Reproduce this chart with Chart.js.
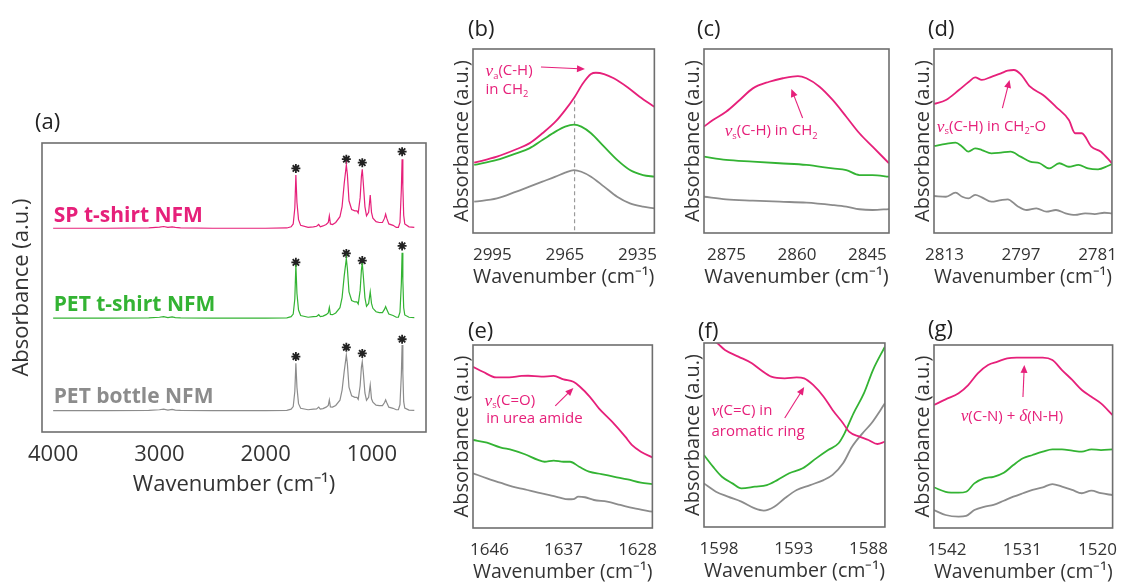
<!DOCTYPE html>
<html lang="en">
<head>
<meta charset="UTF-8">
<title>FTIR spectra of NFMs</title>
<script src="https://cdn.jsdelivr.net/npm/chart.js"></script>
<style>
  body { margin: 0; background: #fff; }
  #fig { position: relative; width: 1131px; height: 582px; overflow: hidden; background: #fff; }
  #fig canvas { position: absolute; }
</style>
</head>
<body>
<div id="fig"></div>
<script>
  // ---- (a) full spectra, 4000-600 cm-1 ----
  const aTicks = [4000, 3000, 2000, 1000];
  const aWn = [4000, 3500, 3100, 3000, 2960, 2920, 2880, 2850, 2800, 2500, 2000, 1800, 1760, 1740, 1725, 1715, 1705, 1690, 1670, 1600,
    1550, 1520, 1500, 1485, 1460, 1430, 1410, 1400, 1390, 1370, 1340, 1300, 1280, 1260, 1240, 1230, 1215, 1190, 1160, 1140,
    1128, 1110, 1098, 1090, 1080, 1065, 1050, 1030, 1015, 1003, 990, 960, 930, 900, 880, 870, 860, 840, 800, 770,
    750, 735, 722, 715, 708, 700, 690, 650, 600];
  const aSP = [70.5, 70.5, 70.6, 70.9, 71.1, 70.8, 71.0, 70.8, 70.6, 70.5, 70.5, 70.6, 71.0, 72.0, 77.5, 88.9, 79.5, 73.5, 71.5, 70.8,
    71.0, 71.2, 71.8, 71.0, 71.3, 71.8, 72.5, 74.8, 72.0, 71.8, 72.5, 74.5, 78.0, 86.0, 92.4, 89.0, 80.0, 77.0, 76.5, 76.5,
    75.8, 81.0, 88.5, 90.9, 86.0, 78.0, 74.8, 76.0, 82.0, 76.0, 74.0, 72.8, 72.5, 72.5, 74.0, 75.4, 74.0, 72.0, 71.5, 70.8,
    70.8, 72.5, 84.0, 94.4, 85.0, 75.0, 72.0, 71.0, 70.8];
  const aPS = [39.4, 39.4, 39.5, 39.7, 39.9, 39.6, 39.8, 39.6, 39.5, 39.4, 39.4, 39.5, 39.9, 40.8, 46.0, 57.9, 48.0, 42.2, 40.3, 39.7,
    39.9, 40.0, 40.6, 39.9, 40.1, 40.6, 41.2, 43.1, 40.7, 40.6, 41.2, 43.0, 46.5, 54.0, 60.0, 56.5, 48.5, 45.5, 45.0, 45.0,
    44.3, 49.0, 56.0, 58.5, 54.0, 46.5, 43.5, 44.5, 48.5, 44.5, 42.8, 41.6, 41.3, 41.3, 42.5, 43.4, 42.5, 40.8, 40.3, 39.7,
    39.7, 41.5, 51.5, 62.0, 52.5, 43.0, 40.5, 39.7, 39.6];
  const aPB = [7.4, 7.4, 7.5, 7.7, 7.9, 7.6, 7.8, 7.6, 7.5, 7.4, 7.4, 7.5, 7.9, 8.8, 14.0, 23.8, 15.5, 9.8, 8.2, 7.7,
    7.9, 8.0, 8.6, 7.9, 8.1, 8.6, 9.2, 11.1, 8.7, 8.6, 9.2, 11.0, 14.5, 21.0, 26.6, 23.5, 15.5, 12.5, 12.0, 12.0,
    11.3, 16.0, 22.5, 24.3, 20.5, 13.5, 11.0, 12.0, 16.3, 11.5, 10.3, 9.3, 9.1, 9.1, 10.2, 11.1, 10.2, 8.6, 8.2, 7.7,
    7.7, 9.5, 20.0, 30.1, 20.5, 10.5, 8.3, 7.6, 7.5];
  // asterisks over the main PET bands
  const starWn = [1715, 1240, 1090, 715];
  const starSP = [91.2, 94.4, 93.2, 97.0];
  const starPS = [58.7, 61.8, 59.3, 64.4];
  const starPB = [26.1, 29.3, 27.2, 32.1];

  // ---- (b) 3003-2928 ----
  const bTicks = [2995, 2965, 2935];
  const bWnSP = [3002.5, 2993.1, 2985.1, 2979.7, 2974.3, 2968.9, 2964.9, 2960.9, 2957.5, 2954.2, 2952.2, 2948.8, 2944.8, 2939.4, 2934.1, 2928];
  const bSP = [38.2, 41.5, 45.5, 48.7, 54.2, 60.5, 66.8, 74.1, 81.4, 86.4, 87.1, 86.4, 84.1, 79.5, 74.1, 68.6];
  const bWnPET = [3002.5, 2993.1, 2985.1, 2979.7, 2974.3, 2968.9, 2964.9, 2961.2, 2958.2, 2954.2, 2948.8, 2943.4, 2938.1, 2932.7, 2928];
  const bPS = [37.0, 39.7, 43.3, 46.0, 50.5, 55.1, 57.8, 58.9, 57.8, 54.2, 46.9, 39.7, 34.2, 31.5, 30.6];
  const bPB = [17.0, 18.8, 22.5, 25.2, 27.9, 30.6, 32.8, 34.2, 33.3, 30.6, 25.2, 19.7, 16.1, 14.3, 13.4];
  const bDashWn = [2961, 2961];
  const bDashV = [1.5, 72];

  // ---- (c) 2880-2840 ----
  const cTicks = [2875, 2860, 2845];
  const cWnSP = [2879.8, 2877.9, 2875.1, 2872.2, 2869.4, 2865.9, 2863.0, 2859.8, 2858.0, 2855.2, 2852.4, 2849.5, 2846.7, 2843.9, 2840.4];
  const cSP = [57.8, 61.4, 65.9, 72.3, 78.6, 82.2, 84.1, 85.3, 84.1, 79.5, 72.3, 63.2, 54.2, 46.9, 37.9];
  const cWnPET = [2879.8, 2875.1, 2869.4, 2863.7, 2858.0, 2852.4, 2849.5, 2846.7, 2843.9, 2840.4];
  const cPS = [41.5, 39.7, 38.8, 37.9, 37.0, 35.1, 34.2, 31.5, 31.5, 30.6];
  const cPB = [19.7, 18.3, 17.6, 17.0, 16.5, 15.2, 14.3, 12.9, 12.5, 13.0];

  // ---- (d) 2815-2778 ----
  const dTicks = [2813, 2797, 2781];
  const dWnSP = [2815.2, 2812.7, 2810.0, 2807.9, 2806.6, 2805.2, 2803.2, 2801.2, 2799.8, 2798.5, 2797.1, 2795.1, 2792.4, 2789.7, 2787.0, 2785.7, 2784.3, 2782.3, 2780.3, 2778.0];
  const dSP = [70.1, 72.3, 77.7, 82.2, 84.6, 83.2, 84.9, 86.8, 88.2, 88.6, 86.4, 79.5, 75.0, 68.6, 61.4, 54.2, 54.2, 46.9, 44.2, 37.9];
  const dWnPS = [2815.2, 2812.7, 2810.7, 2809.3, 2808.0, 2806.6, 2805.2, 2803.2, 2801.2, 2799.2, 2797.1, 2795.1, 2793.1, 2791.1, 2789.0, 2787.0, 2785.0, 2783.0, 2780.9, 2778.9, 2778.0];
  const dPS = [47.3, 48.4, 49.1, 46.9, 44.2, 46.0, 45.1, 43.3, 43.7, 44.2, 41.5, 38.8, 37.9, 35.1, 37.9, 36.0, 37.0, 35.1, 34.6, 36.4, 37.5];
  const dWnPB = [2815.2, 2812.7, 2810.7, 2809.3, 2808.0, 2806.6, 2805.2, 2803.2, 2801.2, 2799.8, 2797.8, 2795.8, 2793.8, 2791.7, 2789.7, 2787.7, 2785.7, 2783.6, 2781.6, 2779.6, 2778.0];
  const dPB = [20.1, 19.7, 21.9, 19.7, 18.8, 20.7, 19.4, 17.0, 17.9, 18.3, 14.7, 12.5, 13.4, 11.6, 12.5, 10.7, 9.8, 10.7, 10.3, 11.0, 10.7];

  // ---- (e) 1648-1626 ----
  const eTicks = [1646, 1637, 1628];
  const eWnSP = [1648.0, 1646.8, 1645.2, 1643.6, 1642.1, 1641.3, 1639.7, 1638.2, 1637.0, 1635.8, 1635.0, 1633.8, 1632.7, 1631.1, 1629.5, 1628.7, 1627.6, 1626.2];
  const eSP = [88.1, 85.4, 82.3, 82.3, 83.1, 83.2, 82.7, 83.1, 81.2, 79.9, 77.2, 71.7, 65.4, 58.1, 49.9, 45.4, 41.7, 38.6];
  const eWnPS = [1648.0, 1646.3, 1644.7, 1643.2, 1641.7, 1640.1, 1639.3, 1638.2, 1637.0, 1636.2, 1635.1, 1633.9, 1632.4, 1630.8, 1629.2, 1627.6, 1626.2];
  const ePS = [48.1, 46.6, 44.1, 42.6, 40.3, 37.2, 36.2, 36.8, 36.2, 36.2, 33.5, 30.8, 29.5, 28.0, 26.6, 24.8, 24.0];
  const eWnPB = [1648.0, 1646.3, 1644.7, 1643.2, 1641.7, 1640.1, 1638.7, 1637.6, 1636.4, 1635.8, 1635.2, 1634.4, 1633.3, 1631.7, 1630.1, 1628.5, 1626.2];
  const ePB = [29.9, 27.1, 24.8, 22.6, 21.1, 19.3, 18.0, 16.8, 15.7, 15.8, 17.1, 16.8, 15.3, 14.4, 12.6, 10.8, 8.9];

  // ---- (f) 1599-1587 ----
  const fTicks = [1598, 1593, 1588];
  const fWnSP = [1599.0, 1598.1, 1597.6, 1596.7, 1595.8, 1595.2, 1594.5, 1593.6, 1592.8, 1592.3, 1591.7, 1591.0, 1590.4, 1589.7, 1589.3, 1588.6, 1588.0, 1587.4, 1586.9];
  const fSP = [104.3, 99.8, 96.2, 92.6, 89.0, 85.3, 81.7, 80.8, 81.3, 80.8, 77.2, 70.8, 63.6, 56.4, 51.8, 49.1, 47.3, 45.1, 46.4];
  const fWnPS = [1599.0, 1598.4, 1597.8, 1597.1, 1596.5, 1595.6, 1594.8, 1594.1, 1593.3, 1592.4, 1591.5, 1590.7, 1590.0, 1589.6, 1589.0, 1588.3, 1587.7, 1586.9];
  const fPS = [39.1, 32.8, 27.3, 23.7, 21.0, 21.9, 22.8, 25.5, 29.2, 31.9, 37.3, 41.8, 45.5, 50.9, 61.8, 72.7, 85.3, 98.0];
  const fWnPB = [1599.0, 1598.2, 1597.4, 1596.5, 1595.6, 1595.0, 1594.3, 1593.6, 1592.8, 1591.9, 1591.0, 1590.4, 1589.7, 1589.1, 1588.4, 1587.8, 1586.9];
  const fPB = [23.7, 19.2, 16.5, 13.8, 10.1, 8.9, 11.0, 15.6, 20.1, 22.8, 25.5, 28.3, 34.6, 43.6, 50.9, 56.4, 67.2];

  // ---- (g) 1544-1518 ----
  const gTicks = [1542, 1531, 1520];
  const gWnSP = [1543.9, 1542.2, 1540.3, 1538.9, 1537.5, 1536.0, 1534.6, 1533.2, 1531.8, 1529.9, 1528.0, 1526.6, 1525.2, 1523.7, 1522.3, 1520.9, 1519.5, 1517.8];
  const gSP = [67.2, 70.3, 73.6, 78.1, 84.5, 89.1, 90.9, 92.7, 93.1, 93.1, 93.1, 91.8, 86.3, 80.9, 75.4, 71.7, 68.1, 61.7];
  const gWnPET = [1543.9, 1542.2, 1540.3, 1539.2, 1538.0, 1536.6, 1535.2, 1533.7, 1532.3, 1530.9, 1529.5, 1528.0, 1526.6, 1525.2, 1523.7, 1522.3, 1520.9, 1519.5, 1517.8];
  const gPS = [22.2, 19.8, 19.3, 19.8, 24.4, 27.1, 28.0, 30.2, 34.4, 38.1, 39.9, 41.7, 43.0, 43.0, 42.3, 41.7, 43.0, 42.6, 43.0];
  const gPB = [9.8, 7.1, 6.2, 6.6, 9.8, 11.6, 12.6, 14.9, 17.1, 19.0, 20.8, 22.2, 24.0, 22.6, 20.8, 19.0, 20.4, 19.0, 18.0];

  const PINK = '#e6207a', GREEN = '#33b333', GREY = '#8c8c8c';
  const PAD_TOP = 45, PAD_RIGHT = 12;

  Chart.defaults.font.family = '"Open Sans", sans-serif';
  Chart.defaults.color = '#333';

  const pts = (xs, ys) => xs.map((x, i) => ({ x: x, y: ys[i] }));

  // italic greek letters + subscripts, drawn piece by piece
  function drawRich(ctx, parts, x, y, size, color) {
    ctx.fillStyle = color;
    ctx.textBaseline = 'middle';
    ctx.textAlign = 'left';
    for (const [t, st] of parts) {
      let fs = size, dy = 0, fam = '"Open Sans"', style = '';
      if (st === 'i') { style = 'italic '; fam = '"Liberation Serif"'; fs = size * 1.15; }
      if (st === 'sub') { fs = size * 0.62; dy = size * 0.32; }
      ctx.font = style + fs + 'px ' + fam;
      ctx.fillText(t, x, y + dy);
      x += ctx.measureText(t).width;
    }
  }

  function drawArrow(ctx, x1, y1, x2, y2, color) {
    const a = Math.atan2(y2 - y1, x2 - x1), L = 8, w = 3.5;
    ctx.strokeStyle = color; ctx.fillStyle = color; ctx.lineWidth = 1.1;
    ctx.beginPath(); ctx.moveTo(x1, y1); ctx.lineTo(x2 - L * 0.7 * Math.cos(a), y2 - L * 0.7 * Math.sin(a)); ctx.stroke();
    ctx.beginPath();
    ctx.moveTo(x2, y2);
    ctx.lineTo(x2 - L * Math.cos(a) + w * Math.sin(a), y2 - L * Math.sin(a) - w * Math.cos(a));
    ctx.lineTo(x2 - L * Math.cos(a) - w * Math.sin(a), y2 - L * Math.sin(a) + w * Math.cos(a));
    ctx.closePath(); ctx.fill();
  }

  const NU = ['ν', 'i'];
  const panels = [
    { tag: '(a)', box: [42, 143, 426, 432], tagAt: [-7, -20], min: 490, max: 4105, ticks: aTicks,
      tickSize: 22, titleSize: 22, tickPad: 10, yW: 33, xH: 66, lw: 1.2, smooth: false,
      lines: [[aWn, aSP, PINK], [aWn, aPS, GREEN], [aWn, aPB, GREY]],
      stars: [[starWn, starSP], [starWn, starPS], [starWn, starPB]],
      names: [['SP t-shirt NFM', 3995, 74.7, PINK], ['PET t-shirt NFM', 3995, 43.9, GREEN], ['PET bottle NFM', 3995, 12.1, GREY]] },
    { tag: '(b)', box: [473, 49, 658, 233], tagAt: [-5, -19], min: 2928, max: 3003, ticks: bTicks,
      lines: [[bWnSP, bSP, PINK], [bWnPET, bPS, GREEN], [bWnPET, bPB, GREY]], dash: [bDashWn, bDashV],
      notes: [[2997.8, 88.0, [NU, ['a', 'sub'], ['(C-H)', '']]], [2997.8, 77.7, [['in CH', ''], ['2', 'sub']]]],
      arrow: [2974.9, 90.2, 2956.7, 89.1] },
    { tag: '(c)', box: [704, 49, 889, 233], tagAt: [-7, -19], min: 2840.4, max: 2879.8, ticks: cTicks,
      lines: [[cWnSP, cSP, PINK], [cWnPET, cPS, GREEN], [cWnPET, cPB, GREY]],
      notes: [[2875.4, 55.4, [NU, ['s', 'sub'], ['(C-H) in CH', ''], ['2', 'sub']]]],
      arrow: [2858.8, 62.5, 2861.2, 78.3] },
    { tag: '(d)', box: [934, 49, 1118, 233], tagAt: [-6, -19], min: 2778, max: 2815.2, ticks: dTicks,
      lines: [[dWnSP, dSP, PINK], [dWnPS, dPS, GREEN], [dWnPB, dPB, GREY]],
      notes: [[2814.6, 57.6, [NU, ['s', 'sub'], ['(C-H) in CH', ''], ['2', 'sub'], ['-O', '']]]],
      arrow: [2800.9, 67.9, 2799.4, 83.2] },
    { tag: '(e)', box: [473, 345, 658, 528], tagAt: [-5, -13], min: 1626.2, max: 1648, ticks: eTicks,
      lines: [[eWnSP, eSP, PINK], [eWnPS, ePS, GREEN], [eWnPB, ePB, GREY]],
      notes: [[1646.6, 69.4, [NU, ['s', 'sub'], ['(C=O)', '']]], [1646.4, 59.6, [['in urea amide', '']]]],
      arrow: [1638.0, 66.7, 1635.8, 76.5] },
    { tag: '(f)', box: [704, 343, 889, 527], tagAt: [-6, -11], min: 1586.9, max: 1599, ticks: fTicks,
      lines: [[fWnSP, fSP, PINK], [fWnPS, fPS, GREEN], [fWnPB, fPB, GREY]],
      notes: [[1598.5, 63.0, [NU, ['(C=C) in', '']]], [1598.5, 51.6, [['aromatic ring', '']]]],
      arrow: [1593.6, 59.2, 1592.3, 76.1] },
    { tag: '(g)', box: [934, 345, 1118, 528], tagAt: [-6, -15], min: 1517.8, max: 1543.9, ticks: gTicks,
      lines: [[gWnSP, gSP, PINK], [gWnPET, gPS, GREEN], [gWnPET, gPB, GREY]],
      notes: [[1540.0, 60.7, [NU, ['(C-N) + ', ''], ['δ', 'i'], ['(N-H)', '']]]],
      arrow: [1530.9, 71.6, 1530.7, 89.1] }
  ];

  const decorPlugin = {
    id: 'decor',
    afterDatasetsDraw(chart) {
      const { ctx, chartArea: ca } = chart;
      ctx.save();
      ctx.strokeStyle = '#6e6e6e';
      ctx.lineWidth = 1.6;
      ctx.strokeRect(ca.left, ca.top, ca.right - ca.left, ca.bottom - ca.top);
      ctx.restore();
    },
    afterDraw(chart, args, opts) {
      const p = opts.panel, { ctx, chartArea: ca } = chart;
      const xs = chart.scales.x, ys = chart.scales.y;
      ctx.save();
      ctx.fillStyle = '#222';
      ctx.font = '22px "Open Sans"';
      ctx.textBaseline = 'middle';
      ctx.fillText(p.tag, ca.left + p.tagAt[0], ca.top + p.tagAt[1]);
      (p.names || []).forEach(([t, x, y, c]) => {
        ctx.fillStyle = c;
        ctx.font = 'bold 21px "Open Sans"';
        ctx.fillText(t, xs.getPixelForValue(x), ys.getPixelForValue(y));
      });
      (p.notes || []).forEach(([x, y, parts]) => drawRich(ctx, parts, xs.getPixelForValue(x), ys.getPixelForValue(y), 15, PINK));
      if (p.arrow) {
        const a = p.arrow;
        drawArrow(ctx, xs.getPixelForValue(a[0]), ys.getPixelForValue(a[1]), xs.getPixelForValue(a[2]), ys.getPixelForValue(a[3]), PINK);
      }
      ctx.restore();
    }
  };

  const fig = document.getElementById('fig');
  panels.forEach(p => {
    const yW = p.yW || 23, xH = p.xH || 56;
    const [l, t, r, b] = p.box;
    const cv = document.createElement('canvas');
    cv.width = (r - l) + yW + PAD_RIGHT;
    cv.height = (b - t) + PAD_TOP + xH;
    cv.style.left = (l - yW) + 'px';
    cv.style.top = (t - PAD_TOP) + 'px';
    fig.appendChild(cv);

    const datasets = p.lines.map(([xs, ys, c]) => ({
      data: pts(xs, ys), borderColor: c, borderWidth: p.lw || 1.8,
      pointRadius: 0, fill: false,
      cubicInterpolationMode: p.smooth === false ? 'default' : 'monotone',
      tension: p.smooth === false ? 0 : 0.4
    }));
    if (p.dash) {
      datasets.push({ data: pts(p.dash[0], p.dash[1]), borderColor: '#9a9a9a', borderWidth: 1.2,
        borderDash: [4, 3], pointRadius: 0, fill: false });
    }
    (p.stars || []).forEach(([xs, ys]) => datasets.push({
      data: pts(xs, ys), showLine: false, pointStyle: 'star', pointRadius: 4.5,
      pointBorderWidth: 1.8, pointBorderColor: '#222', pointBackgroundColor: '#222'
    }));

    new Chart(cv, {
      type: 'line',
      data: { datasets: datasets },
      options: {
        responsive: false,
        animation: false,
        events: [],
        layout: { padding: { top: PAD_TOP, right: PAD_RIGHT, left: 0, bottom: 0 } },
        plugins: { legend: { display: false }, tooltip: { enabled: false }, decor: { panel: p } },
        scales: {
          x: {
            type: 'linear', reverse: true, min: p.min, max: p.max,
            grid: { display: false, drawTicks: false }, border: { display: false },
            afterBuildTicks: s => { s.ticks = p.ticks.map(v => ({ value: v })); },
            afterFit: s => { s.height = xH; },
            ticks: { font: { size: p.tickSize || 17 }, padding: p.tickPad || 12, maxRotation: 0, autoSkip: false,
              color: '#333', callback: v => String(v) },
            title: { display: true, text: 'Wavenumber (cm⁻¹)', font: { size: p.titleSize || 20 }, padding: 0, color: '#333' }
          },
          y: {
            min: 0, max: 100,
            grid: { display: false, drawTicks: false }, border: { display: false },
            ticks: { display: false },
            afterFit: s => { s.width = yW; },
            title: { display: true, text: 'Absorbance (a.u.)', font: { size: p.titleSize || 20 }, padding: 0, color: '#333' }
          }
        }
      },
      plugins: [decorPlugin]
    });
  });
</script>
</body>
</html>
